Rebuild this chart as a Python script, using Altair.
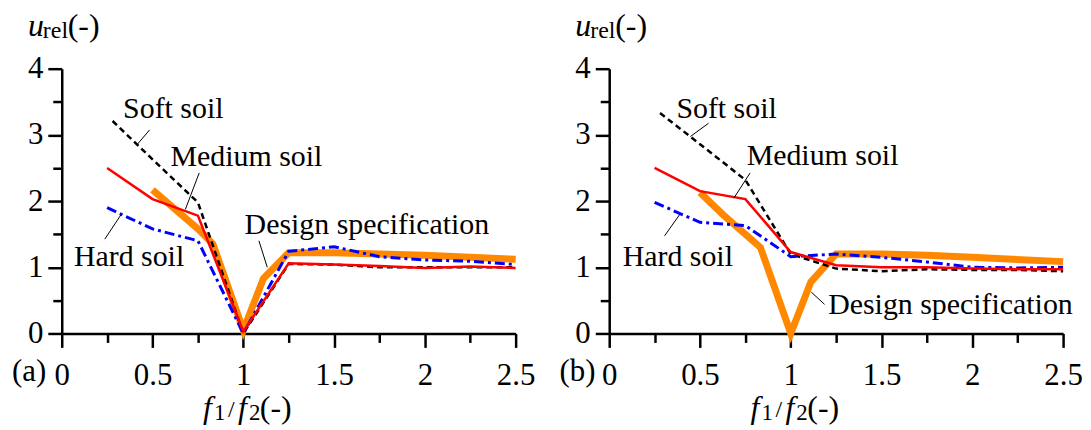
import altair as alt
import pandas as pd

FONT = "Liberation Serif, Times New Roman, serif"

# ---------------- data ----------------
X_SOIL = [0.25, 0.5, 0.75, 1.0, 1.25, 1.5, 1.75, 2.0, 2.25, 2.5]
X_SOFT = [0.28, 0.5, 0.75, 1.0, 1.25, 1.5, 1.75, 2.0, 2.25, 2.5]

A_SOFT = [3.21, 2.63, 1.98, 0.0, 1.05, 1.04, 1.0, 1.0, 1.0, 1.0]
A_MEDIUM = [2.5, 2.03, 1.78, 0.03, 1.06, 1.04, 1.02, 0.99, 1.01, 0.99]
A_HARD = [1.9, 1.58, 1.4, 0.0, 1.24, 1.31, 1.16, 1.11, 1.09, 1.04]
A_DESIGN_X = [0.5, 0.75, 0.833, 1.0, 1.111, 1.25, 1.5, 1.75, 2.0, 2.5]
A_DESIGN = [2.17, 1.58, 1.35, 0.05, 0.83, 1.22, 1.22, 1.2, 1.18, 1.12]

B_SOFT = [3.33, 2.86, 2.32, 1.2, 0.98, 0.94, 0.97, 0.96, 0.96, 0.94]
B_MEDIUM = [2.5, 2.15, 2.03, 1.23, 1.03, 1.0, 1.0, 0.98, 0.97, 0.97]
B_HARD = [1.98, 1.68, 1.63, 1.16, 1.2, 1.15, 1.08, 1.0, 0.99, 1.0]
B_DESIGN_X = [0.5, 0.625, 0.833, 1.0, 1.111, 1.25, 1.5, 1.75, 2.0, 2.5]
B_DESIGN = [2.13, 1.8, 1.3, 0.0, 0.78, 1.2, 1.2, 1.18, 1.15, 1.085]

LABELS = ["Soft soil", "Medium soil", "Hard soil", "Design specification"]
A_LABEL_X = [0.338, 0.599, 0.067, 1.007]
A_LABEL_Y = [3.26, 2.525, 1.025, 1.5]
A_LEAD_X = [0.414, 0.681, 0.237, 1.086]
A_LEAD_Y = [2.85, 1.875, 1.425, 1.4]
A_LEAD_X2 = [0.484, 0.757, 0.328, 1.132]
A_LEAD_Y2 = [3.075, 2.425, 1.8, 1.0]

B_LABEL_X = [0.37, 0.757, 0.074, 1.206]
B_LABEL_Y = [3.26, 2.55, 1.025, 0.3]
B_LEAD_X = [0.447, 0.688, 0.305, 1.113]
B_LEAD_Y = [2.975, 2.05, 1.475, 0.625]
B_LEAD_X2 = [0.547, 0.776, 0.389, 1.186]
B_LEAD_Y2 = [3.175, 2.425, 1.8, 0.44]

X_TICKS = [0, 0.25, 0.5, 0.75, 1, 1.25, 1.5, 1.75, 2, 2.25, 2.5]
Y_TICKS = [0, 0.5, 1, 1.5, 2, 2.5, 3, 3.5, 4]

W, H = 456, 266

x_major = "abs(datum.value * 2 - round(datum.value * 2)) < 0.001"
y_major = "abs(datum.value - round(datum.value)) < 0.001"

axis_common = dict(
    domainColor="black", domainWidth=2.5, tickColor="black", tickWidth=2.5,
    labelFont=FONT, labelFontSize=31, labelColor="black", grid=False,
    title=None, labelFlush=False, labelOverlap=False,
)

x_axis = alt.Axis(
    values=X_TICKS,
    labelExpr=f"{x_major} ? toString(datum.value) : ''",
    tickSize={"condition": {"test": x_major, "value": 14}, "value": 9},
    labelPadding=13, labelBaseline="top",
    **axis_common,
)
y_axis = alt.Axis(
    values=Y_TICKS,
    labelExpr=f"{y_major} ? toString(datum.value) : ''",
    tickSize={"condition": {"test": y_major, "value": 14}, "value": 9},
    labelPadding=5,
    **axis_common,
)

xs = alt.Scale(domain=[0, 2.5], nice=False, zero=False)
ys = alt.Scale(domain=[0, 4], nice=False, zero=False)


def X():
    return alt.X("x:Q", scale=xs, axis=x_axis)


def Y():
    return alt.Y("y:Q", scale=ys, axis=y_axis)


def line_layer(xv, yv, color, width, dash=None):
    df = pd.DataFrame({"x": xv, "y": yv})
    kw = dict(color=color, strokeWidth=width, clip=False, strokeJoin="miter")
    if dash:
        kw["strokeDash"] = dash
    return alt.Chart(df).mark_line(**kw).encode(x=X(), y=Y())


def txt(s, x, y, size, italic=False):
    return alt.Chart(pd.DataFrame({"t": [s]})).mark_text(
        font=FONT, fontSize=size, fontStyle="italic" if italic else "normal",
        align="left", baseline="alphabetic", color="black",
    ).encode(x=alt.value(x), y=alt.value(y), text="t:N")


def panel(soft, medium, hard, dx, design, lx, ly, l1x, l1y, l2x, l2y, tag):
    ann = pd.DataFrame({"x": lx, "y": ly, "t": LABELS})
    lead = pd.DataFrame({"x": l1x, "y": l1y, "x2": l2x, "y2": l2y})
    layers = [
        line_layer(dx, design, "#FF8800", 7),
        line_layer(X_SOFT, soft, "black", 2.5, dash=[6, 4]),
        line_layer(X_SOIL, hard, "#0000FF", 3, dash=[10, 4, 3, 4]),
        line_layer(X_SOIL, medium, "#FF0000", 2.5),
        alt.Chart(lead).mark_rule(color="black", strokeWidth=1).encode(
            x=X(), y=Y(), x2="x2:Q", y2="y2:Q",
        ),
        alt.Chart(ann).mark_text(
            font=FONT, fontSize=30, align="left", baseline="alphabetic", color="black"
        ).encode(x=X(), y=Y(), text="t:N"),
        # y-axis title: u_rel (-)
        txt("u", -34, -33, 32, italic=True),
        txt("rel", -19, -31, 24),
        txt("(-)", 6, -33, 32),
        # x-axis title: f1 / f2 (-)
        txt("f", 142, H + 85, 32, italic=True),
        txt("1", 153, H + 87, 23),
        txt("/", 167, H + 84, 24),
        txt("f", 177, H + 85, 32, italic=True),
        txt("2", 188, H + 87, 23),
        txt("(-)", 199, H + 85, 32),
        # panel tag
        txt(tag, -50, H + 48, 31),
    ]
    return alt.layer(*layers).properties(width=W, height=H)


left = panel(A_SOFT, A_MEDIUM, A_HARD, A_DESIGN_X, A_DESIGN,
             A_LABEL_X, A_LABEL_Y, A_LEAD_X, A_LEAD_Y, A_LEAD_X2, A_LEAD_Y2, "(a)")
right = panel(B_SOFT, B_MEDIUM, B_HARD, B_DESIGN_X, B_DESIGN,
              B_LABEL_X, B_LABEL_Y, B_LEAD_X, B_LEAD_Y, B_LEAD_X2, B_LEAD_Y2, "(b)")

chart = alt.hconcat(left, right, spacing=94, bounds="flush").properties(
    padding={"left": 4, "top": 1, "right": 0, "bottom": 0},
    background="white",
).configure_view(stroke=None)

chart.save("out.html", embed_options={"renderer": "svg", "actions": False})
